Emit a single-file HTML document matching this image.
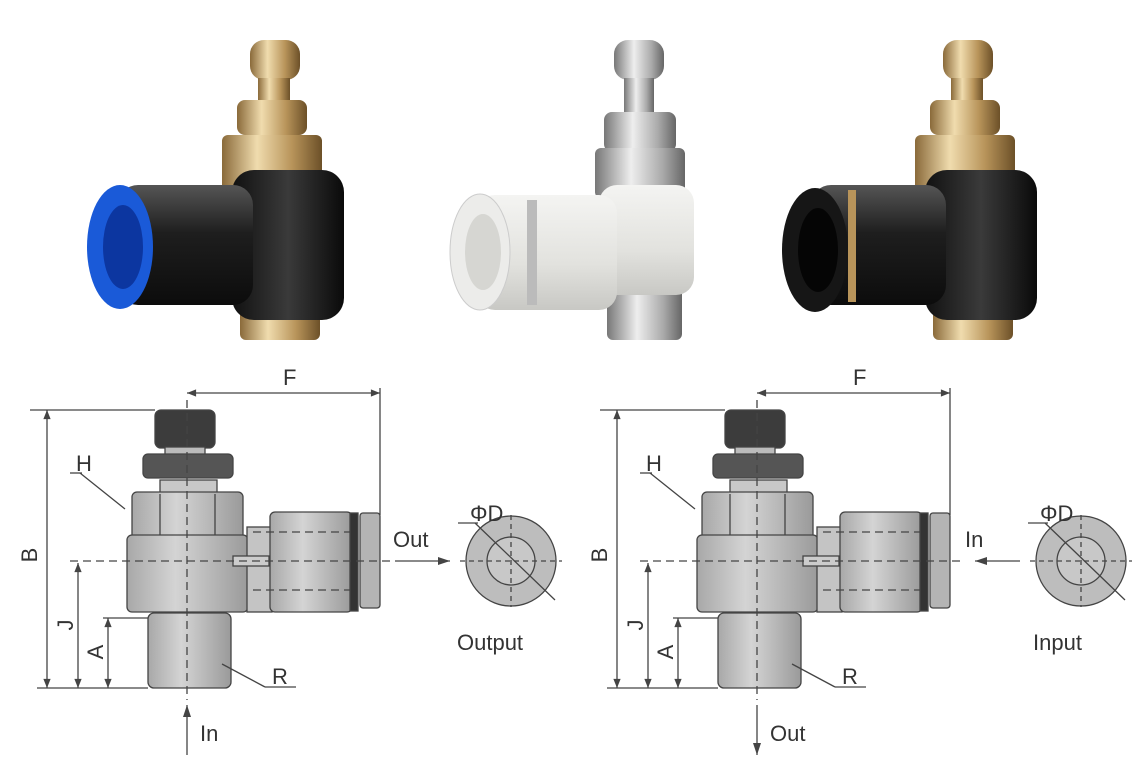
<!DOCTYPE html><html><head><style>body{margin:0;background:#fff}svg{display:block}text{font-family:"Liberation Sans",sans-serif;fill:#333}</style></head><body>
<svg width="1145" height="781" viewBox="0 0 1145 781">
<defs>
<linearGradient id="blk" x1="0" y1="0" x2="0" y2="1"><stop offset="0" stop-color="#555"/><stop offset=".4" stop-color="#1e1e1e"/><stop offset="1" stop-color="#0c0c0c"/></linearGradient>
<linearGradient id="blkv" x1="0" y1="0" x2="1" y2="0"><stop offset="0" stop-color="#111"/><stop offset=".5" stop-color="#3a3a3a"/><stop offset="1" stop-color="#0a0a0a"/></linearGradient>
<linearGradient id="brass" x1="0" y1="0" x2="1" y2="0"><stop offset="0" stop-color="#8a6a3a"/><stop offset=".35" stop-color="#f0dcae"/><stop offset=".7" stop-color="#b8945a"/><stop offset="1" stop-color="#6c5028"/></linearGradient>
<linearGradient id="chrome" x1="0" y1="0" x2="1" y2="0"><stop offset="0" stop-color="#777"/><stop offset=".4" stop-color="#eee"/><stop offset=".75" stop-color="#aaa"/><stop offset="1" stop-color="#666"/></linearGradient>
<linearGradient id="wht" x1="0" y1="0" x2="0" y2="1"><stop offset="0" stop-color="#f4f4f2"/><stop offset=".6" stop-color="#e2e2de"/><stop offset="1" stop-color="#c8c8c4"/></linearGradient>
<linearGradient id="gry" x1="0" y1="0" x2="1" y2="0"><stop offset="0" stop-color="#a8a8a8"/><stop offset=".4" stop-color="#d4d4d4"/><stop offset="1" stop-color="#9a9a9a"/></linearGradient>
<g id="photo">
<rect x="250" y="40" width="50" height="40" rx="14" fill="url(#brass)"/>
<rect x="258" y="78" width="32" height="30" fill="url(#brass)"/>
<rect x="237" y="100" width="70" height="35" rx="8" fill="url(#brass)"/>
<rect x="222" y="135" width="100" height="60" rx="6" fill="url(#brass)"/>
<rect x="240" y="290" width="80" height="50" rx="6" fill="url(#brass)"/>
<rect x="232" y="170" width="112" height="150" rx="22" fill="url(#blkv)"/>
<rect x="118" y="185" width="135" height="120" rx="20" fill="url(#blk)"/>
</g>
<marker id="ar" viewBox="0 0 10 10" refX="10" refY="5" markerWidth="9" markerHeight="7" orient="auto-start-reverse"><path d="M0,1 L10,5 L0,9 z" fill="#444"/></marker>
</defs>
<use href="#photo"/>
<ellipse cx="120" cy="247" rx="33" ry="62" fill="#1a5ad8"/>
<ellipse cx="123" cy="247" rx="20" ry="42" fill="#0c36a0"/>
<g transform="translate(367,0)">
<rect x="247" y="40" width="50" height="40" rx="14" fill="url(#chrome)"/>
<rect x="257" y="78" width="30" height="45" fill="url(#chrome)"/>
<rect x="237" y="112" width="72" height="40" rx="8" fill="url(#chrome)"/>
<rect x="228" y="148" width="90" height="50" rx="6" fill="url(#chrome)"/>
<rect x="240" y="285" width="75" height="55" rx="6" fill="url(#chrome)"/>
<rect x="232" y="185" width="95" height="110" rx="18" fill="url(#wht)"/>
<rect x="110" y="195" width="140" height="115" rx="18" fill="url(#wht)"/>
<rect x="160" y="200" width="10" height="105" fill="#bbb"/>
<ellipse cx="113" cy="252" rx="30" ry="58" fill="#ececea" stroke="#ccc"/>
<ellipse cx="116" cy="252" rx="18" ry="38" fill="#d6d6d2"/>
</g>
<g transform="translate(693,0)">
<use href="#photo"/>
<ellipse cx="122" cy="250" rx="33" ry="62" fill="#161616"/>
<ellipse cx="125" cy="250" rx="20" ry="42" fill="#050505"/>
<rect x="155" y="190" width="8" height="112" fill="#b8945a"/>
</g>
<g id="dwg" stroke="#444" stroke-width="1.3">
<rect x="155" y="410" width="60" height="38" rx="6" fill="#3c3c3c"/>
<rect x="165" y="447" width="40" height="8" fill="#bbb"/>
<rect x="143" y="454" width="90" height="24" rx="5" fill="#555"/>
<rect x="160" y="480" width="57" height="14" fill="#c8c8c8"/>
<rect x="132" y="492" width="111" height="48" rx="5" fill="url(#gry)"/>
<line x1="160" y1="494" x2="160" y2="538"/><line x1="215" y1="494" x2="215" y2="538"/>
<rect x="127" y="535" width="121" height="77" rx="5" fill="url(#gry)"/>
<rect x="148" y="613" width="83" height="75" rx="6" fill="url(#gry)"/>
<rect x="247" y="527" width="25" height="85" fill="#c4c4c4"/>
<rect x="270" y="512" width="82" height="100" rx="5" fill="url(#gry)"/>
<rect x="350" y="513" width="8" height="98" fill="#333"/>
<rect x="360" y="513" width="20" height="95" rx="3" fill="#b4b4b4"/>
<rect x="233" y="556" width="36" height="10" fill="#ccc"/>
<g fill="none" stroke-dasharray="8 5">
<line x1="70" y1="561" x2="390" y2="561"/><line x1="187" y1="400" x2="187" y2="700"/>
<line x1="253" y1="532" x2="350" y2="532"/><line x1="253" y1="590" x2="350" y2="590"/>
</g>
<g fill="none">
<line x1="187" y1="393" x2="380" y2="393" marker-start="url(#ar)" marker-end="url(#ar)"/><line x1="380" y1="388" x2="380" y2="515"/>
<line x1="30" y1="410" x2="155" y2="410"/><line x1="47" y1="410" x2="47" y2="688" marker-start="url(#ar)" marker-end="url(#ar)"/>
<line x1="37" y1="688" x2="148" y2="688"/><line x1="78" y1="563" x2="78" y2="688" marker-start="url(#ar)" marker-end="url(#ar)"/>
<line x1="103" y1="618" x2="148" y2="618"/><line x1="108" y1="618" x2="108" y2="688" marker-start="url(#ar)" marker-end="url(#ar)"/>
<line x1="80" y1="473" x2="125" y2="509"/><line x1="70" y1="473" x2="82" y2="473"/>
<line x1="222" y1="664" x2="265" y2="687"/><line x1="265" y1="687" x2="296" y2="687"/>
<line x1="187" y1="705" x2="187" y2="755"/>
</g>
<circle cx="511" cy="561" r="45" fill="#bdbdbd"/>
<circle cx="511" cy="561" r="24" fill="#c8c8c8"/>
<g fill="none" stroke-dasharray="5 4"><line x1="460" y1="561" x2="562" y2="561"/><line x1="511" y1="515" x2="511" y2="607"/></g>
<line x1="475" y1="523" x2="555" y2="600" fill="none"/>
<line x1="458" y1="523" x2="478" y2="523" fill="none"/>
</g>
<g font-size="22">
<text x="283" y="385">F</text><text x="76" y="471">H</text><text x="272" y="684">R</text>
<text x="470" y="521">ΦD</text><text x="393" y="547">Out</text><text x="457" y="650">Output</text>
<text x="200" y="741">In</text>
<text x="32" y="560" transform="rotate(-90 32 555)" text-anchor="middle">B</text>
<text x="70" y="628" transform="rotate(-90 70 625)" text-anchor="middle">J</text>
<text x="100" y="655" transform="rotate(-90 100 652)" text-anchor="middle">A</text>
</g>
<polygon points="450,561 438,557 438,565" fill="#444"/>
<polygon points="187,705 183,717 191,717" fill="#444"/>
<g transform="translate(570,0)">
<use href="#dwg"/>
<g font-size="22">
<text x="283" y="385">F</text><text x="76" y="471">H</text><text x="272" y="684">R</text>
<text x="470" y="521">ΦD</text><text x="395" y="547">In</text><text x="463" y="650">Input</text>
<text x="200" y="741">Out</text>
<text x="32" y="560" transform="rotate(-90 32 555)" text-anchor="middle">B</text>
<text x="70" y="628" transform="rotate(-90 70 625)" text-anchor="middle">J</text>
<text x="100" y="655" transform="rotate(-90 100 652)" text-anchor="middle">A</text>
</g>
<polygon points="405,561 417,557 417,565" fill="#444"/>
<line x1="405" y1="561" x2="450" y2="561" stroke="#444" stroke-width="1.3"/>
<polygon points="187,755 183,743 191,743" fill="#444"/>
</g>
<line x1="395" y1="561" x2="450" y2="561" stroke="#444" stroke-width="1.3"/>
</svg>
</body></html>
